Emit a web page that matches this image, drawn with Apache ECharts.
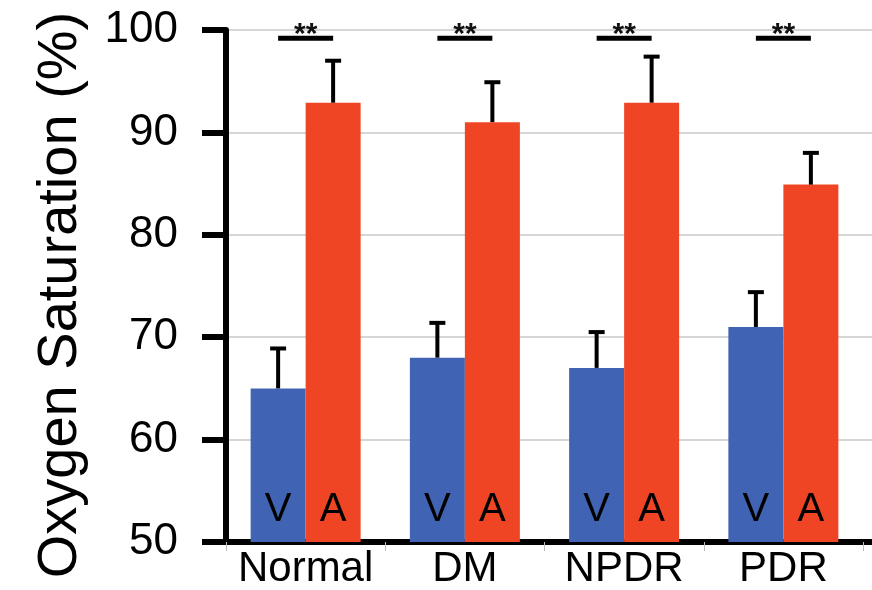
<!DOCTYPE html>
<html>
<head>
<meta charset="utf-8">
<script src="https://cdn.jsdelivr.net/npm/echarts@6/dist/echarts.min.js"></script>
<style>
  html, body { margin: 0; padding: 0; background: #fff; }
  #chart { width: 872px; height: 590px; }
</style>
</head>
<body>
<div id="chart"></div>
<script>
const categories = ['Normal', 'DM', 'NPDR', 'PDR']
const veinMean = [65, 68, 67, 71]
const veinErrTop = [68.9, 71.4, 70.5, 74.4]
const arteryMean = [92.9, 91, 92.9, 84.9]
const arteryErrTop = [97, 94.9, 97.4, 88]
const sigLevel = [99.2, 99.2, 99.2, 99.2]
const sigMark = ['**', '**', '**', '**']
const barLetters = ['V', 'A']

const FONT = '"Liberation Sans", Arial, Helvetica, sans-serif'
const BAR_W = 55
const blue = '#4063b3'
const red = '#ef4524'

function errorBar(offset) {
  return function(params, api) {
    const base = api.coord([api.value(0), api.value(1)])
    const top = api.coord([api.value(0), api.value(2)])
    const x = base[0] + offset
    const style = { stroke: '#000', lineWidth: 4 }
    return {
      type: 'group',
      children: [
        { type: 'line', shape: { x1: x, y1: base[1], x2: x, y2: top[1] }, style: style },
        { type: 'line', shape: { x1: x - 8, y1: top[1], x2: x + 8, y2: top[1] }, style: style }
      ]
    }
  }
}

function sigBar(params, api) {
  const p = api.coord([api.value(0), api.value(1)])
  return {
    type: 'group',
    children: [
      {
        type: 'line',
        shape: { x1: p[0] - BAR_W / 2, y1: p[1], x2: p[0] + BAR_W / 2, y2: p[1] },
        style: { stroke: '#000', lineWidth: 5 }
      },
      {
        type: 'text',
        x: p[0],
        y: p[1] - 3,
        style: {
          text: sigMark[params.dataIndex],
          fill: '#111',
          font: 'bold 30px ' + FONT,
          align: 'center',
          verticalAlign: 'middle'
        }
      }
    ]
  }
}

function letterLabel(letter) {
  return {
    show: true,
    position: 'insideBottom',
    distance: 12,
    formatter: letter,
    color: '#000',
    fontSize: 40,
    fontFamily: FONT
  }
}

const chart = echarts.init(document.getElementById('chart'))
chart.setOption({
  animation: false,
  grid: [
    { left: 226, right: 9, top: 30, bottom: 48, outerBoundsMode: 'none' },
    { left: 863, right: 0, top: 30, bottom: 48, outerBoundsMode: 'none' }
  ],
  xAxis: [
    {
      type: 'category',
      data: categories,
      gridIndex: 0,
      axisLine: { lineStyle: { color: '#000', width: 6 } },
      axisTick: { show: true, length: 9, lineStyle: { color: '#bbb', width: 1 } },
      axisLabel: { color: '#000', fontSize: 42, fontFamily: FONT, margin: 6, interval: 0 }
    },
    {
      type: 'value',
      gridIndex: 1,
      min: 0,
      max: 1,
      axisLine: { show: true, lineStyle: { color: '#000', width: 6 } },
      axisTick: { show: false },
      axisLabel: { show: false },
      splitLine: { show: false }
    }
  ],
  yAxis: [
    {
      type: 'value',
      gridIndex: 0,
      min: 50,
      max: 100,
      interval: 10,
      name: 'Oxygen Saturation (%)',
      nameLocation: 'middle',
      nameRotate: 90,
      nameGap: 137,
      nameTextStyle: { color: '#000', fontSize: 56, fontFamily: FONT, padding: [0, 18, 0, 0] },
      axisLine: { show: true, lineStyle: { color: '#000', width: 6 } },
      axisTick: { show: true, length: 24, lineStyle: { color: '#000', width: 6 } },
      axisLabel: { color: '#000', fontSize: 44, fontFamily: FONT, margin: 48 },
      splitLine: { lineStyle: { color: '#c8c8c8', width: 1.5 } }
    },
    {
      type: 'value',
      gridIndex: 1,
      min: 50,
      max: 100,
      interval: 10,
      axisLine: { show: false },
      axisTick: { show: false },
      axisLabel: { show: false },
      splitLine: { lineStyle: { color: '#c8c8c8', width: 1.5 } }
    }
  ],
  series: [
    {
      name: 'V',
      type: 'bar',
      data: veinMean,
      barWidth: BAR_W,
      barGap: '0%',
      itemStyle: { color: blue },
      label: letterLabel(barLetters[0])
    },
    {
      name: 'A',
      type: 'bar',
      data: arteryMean,
      barWidth: BAR_W,
      barGap: '0%',
      itemStyle: { color: red },
      label: letterLabel(barLetters[1])
    },
    {
      type: 'custom',
      z: 5,
      renderItem: errorBar(-BAR_W / 2),
      encode: { x: 0, y: [1, 2] },
      data: veinMean.map((m, i) => [i, m, veinErrTop[i]])
    },
    {
      type: 'custom',
      z: 5,
      renderItem: errorBar(BAR_W / 2),
      encode: { x: 0, y: [1, 2] },
      data: arteryMean.map((m, i) => [i, m, arteryErrTop[i]])
    },
    {
      type: 'custom',
      z: 6,
      clip: false,
      renderItem: sigBar,
      encode: { x: 0, y: 1 },
      data: sigLevel.map((v, i) => [i, v])
    }
  ]
})
</script>
</body>
</html>
